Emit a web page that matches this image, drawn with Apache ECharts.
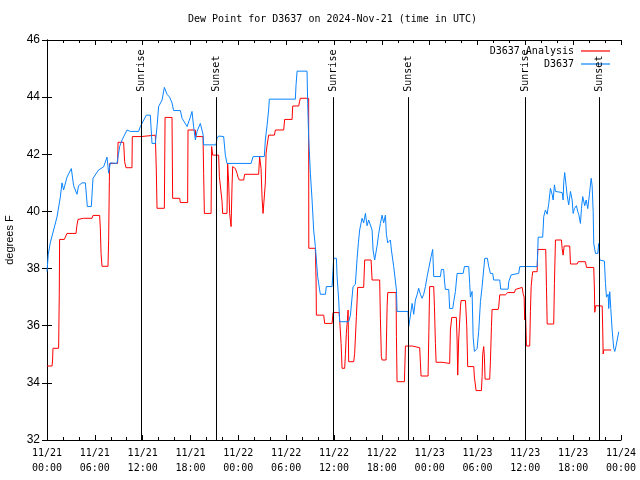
<!DOCTYPE html>
<html><head><meta charset="utf-8">
<script src="https://cdn.jsdelivr.net/npm/echarts@6/dist/echarts.min.js"></script>
<style>html,body{margin:0;padding:0;background:#fff}#c{width:640px;height:480px}</style>
</head><body><div id="c"></div>
<script>
// hours since 2024-11-21 00:00 UTC, dew point in degrees F
const analysis = [[0,34.59],[0.63,34.59],[0.70,34.8],[0.75,35.21],[1.46,35.21],[1.54,37.1],[1.58,39.02],[2.17,39.02],[2.30,39.09],[2.51,39.23],[3.64,39.23],[3.76,39.52],[3.89,39.72],[4.59,39.76],[5.65,39.76],[5.77,39.86],[6.60,39.86],[6.69,39.41],[6.78,38.53],[6.90,38.08],[7.65,38.08],[7.73,38.97],[7.82,41.04],[7.85,41.68],[8.86,41.68],[8.91,42.42],[9.61,42.42],[9.74,41.74],[9.91,41.53],[10.66,41.53],[10.70,42.62],[11.83,42.62],[11.92,42.67],[13.59,42.67],[13.71,41.45],[13.80,40.11],[14.72,40.11],[14.81,43.29],[15.68,43.29],[15.76,40.46],[16.64,40.46],[16.73,40.31],[17.64,40.31],[17.69,42.85],[18.61,42.85],[18.65,42.62],[19.57,42.62],[19.65,41.33],[19.74,39.93],[20.58,39.93],[20.65,42.27],[20.78,41.97],[21.53,41.97],[21.62,41.22],[21.87,41.22],[21.96,40.34],[22.03,39.93],[22.58,39.93],[22.66,41.68],[22.79,41.0],[22.91,39.93],[23.09,39.47],[23.21,40.9],[23.29,41.57],[23.63,41.5],[23.84,41.33],[23.96,41.2],[24.13,41.1],[24.67,41.1],[24.79,41.3],[26.55,41.3],[26.67,41.92],[26.85,41.5],[26.98,40.46],[27.10,39.93],[27.30,39.93],[27.39,41.0],[27.48,42.03],[27.60,42.3],[27.80,42.67],[28.52,42.67],[28.65,42.85],[29.69,42.85],[29.81,43.22],[30.74,43.22],[30.82,43.69],[31.57,43.69],[31.69,43.86],[31.78,43.96],[32.82,43.96],[32.84,38.71],[33.66,38.71],[33.75,37.6],[33.79,36.37],[34.71,36.37],[34.83,36.08],[35.76,36.08],[35.88,36.46],[36.64,36.46],[36.71,36.2],[36.89,35.38],[37.01,34.51],[37.34,34.51],[37.43,35.0],[37.55,35.73],[37.68,36.2],[37.77,36.55],[37.84,34.74],[38.47,34.74],[38.59,35.03],[38.81,36.32],[38.97,37.34],[39.72,37.34],[39.85,38.3],[40.65,38.3],[40.78,37.6],[41.73,37.6],[41.82,36.26],[41.94,34.92],[42.03,34.8],[42.53,34.8],[42.66,36.66],[42.74,37.16],[43.79,37.16],[43.83,35.62],[43.91,34.04],[44.83,34.04],[44.96,35.29],[45.80,35.29],[46.05,35.23],[46.75,35.23],[46.84,34.7],[46.92,34.24],[47.80,34.24],[47.90,35.8],[48.00,37.37],[48.51,37.37],[48.60,36.66],[48.72,35.38],[48.81,34.72],[49.56,34.72],[49.64,34.68],[50.51,34.68],[50.60,35.85],[50.77,36.29],[51.35,36.29],[51.44,35.5],[51.52,34.27],[51.64,35.5],[51.86,36.66],[51.94,36.88],[52.49,36.88],[52.65,36.0],[52.77,34.57],[53.53,34.57],[53.61,34.2],[53.82,33.73],[54.49,33.73],[54.58,34.22],[54.65,35.0],[54.78,35.27],[54.87,34.9],[54.95,34.13],[55.53,34.13],[55.62,34.74],[55.75,35.97],[55.83,36.57],[56.59,36.57],[56.66,36.66],[56.79,37.08],[57.50,37.08],[57.63,37.13],[57.79,37.16],[58.63,37.16],[58.76,37.27],[58.88,37.34],[59.60,37.34],[59.72,37.13],[59.85,37.0],[59.92,36.2],[60.01,36.6],[60.14,35.29],[60.55,35.29],[60.64,36.5],[60.73,37.37],[60.85,37.72],[60.93,37.89],[61.48,37.89],[61.56,38.67],[62.56,38.67],[62.65,37.37],[62.74,36.06],[63.56,36.06],[63.65,37.48],[63.78,39.0],[64.53,39.0],[64.62,38.7],[64.74,38.47],[64.87,38.79],[65.57,38.79],[65.66,38.16],[66.50,38.16],[66.63,38.24],[67.54,38.24],[67.67,38.04],[68.58,38.04],[68.67,37.25],[68.71,36.47],[68.83,36.7],[69.01,36.69],[69.64,36.69],[69.71,35.85],[69.76,35.01],[69.84,35.15],[70.77,35.15]];

const station = [[0,37.9],[0.16,38.5],[0.41,38.9],[0.83,39.35],[1.25,39.8],[1.67,40.5],[1.88,41.0],[2.08,40.75],[2.51,41.2],[3.05,41.5],[3.34,40.9],[3.76,40.6],[3.96,40.9],[4.39,41.0],[4.81,41.0],[5.06,40.17],[5.56,40.17],[5.77,41.16],[6.47,41.45],[7.10,41.56],[7.53,41.9],[7.73,41.34],[7.94,41.7],[8.78,41.68],[9.11,42.27],[9.41,42.5],[10.04,42.85],[10.45,42.8],[11.49,42.8],[11.71,42.97],[11.92,43.08],[12.46,43.37],[12.96,43.37],[13.17,42.38],[13.59,42.38],[13.80,42.97],[14.00,43.67],[14.43,43.9],[14.72,44.34],[15.06,44.1],[15.38,44.0],[15.68,43.8],[15.88,43.53],[16.73,43.53],[16.94,43.26],[17.57,42.97],[17.98,43.3],[18.19,43.5],[18.39,42.97],[18.61,42.5],[18.82,42.8],[19.23,43.08],[19.57,42.7],[19.65,42.33],[21.20,42.33],[21.33,42.56],[21.53,42.64],[22.16,42.62],[22.37,41.97],[22.58,41.68],[25.60,41.68],[25.85,41.92],[27.26,41.92],[27.39,42.5],[27.60,43.0],[27.80,43.55],[27.89,43.93],[31.15,43.93],[31.24,44.43],[31.37,44.91],[32.62,44.91],[32.70,43.78],[32.82,42.6],[33.04,41.33],[33.25,40.4],[33.45,39.35],[33.66,38.77],[33.79,38.3],[33.95,37.72],[34.20,37.25],[34.29,37.1],[34.92,37.1],[35.04,37.37],[35.76,37.37],[35.88,37.95],[35.96,38.36],[36.30,38.36],[36.39,37.72],[36.59,36.9],[36.71,36.14],[37.84,36.14],[38.06,36.37],[38.39,37.37],[38.68,37.45],[38.90,38.36],[39.06,38.9],[39.22,39.35],[39.52,39.76],[39.72,39.6],[39.94,39.93],[40.15,39.5],[40.35,39.7],[40.56,39.76],[40.78,39.35],[40.90,38.65],[41.10,38.3],[41.41,38.8],[41.61,39.23],[41.82,39.58],[42.03,39.87],[42.23,39.6],[42.45,39.87],[42.57,39.2],[42.74,38.9],[43.07,39.0],[43.20,38.65],[43.49,38.07],[43.70,38.1],[43.83,37.25],[43.91,36.5],[45.29,36.5],[45.37,35.97],[45.50,36.2],[45.80,36.78],[46.00,36.4],[46.21,36.9],[46.42,37.08],[46.62,37.31],[46.84,37.1],[47.05,36.96],[47.25,37.1],[47.47,37.37],[47.68,37.72],[47.88,38.0],[48.18,38.42],[48.38,38.67],[48.51,37.72],[49.35,37.72],[49.47,37.97],[49.76,37.97],[49.85,37.6],[49.97,37.27],[50.39,37.27],[50.51,36.6],[50.89,36.6],[51.02,36.84],[51.23,37.2],[51.44,37.83],[52.20,37.83],[52.36,38.07],[52.90,38.07],[53.02,37.48],[53.11,37.0],[53.32,37.2],[53.45,35.62],[53.61,35.1],[53.95,35.2],[54.15,35.8],[54.37,36.84],[54.58,37.37],[54.78,37.37],[54.91,38.36],[55.24,38.36],[55.41,38.07],[55.62,37.83],[55.91,37.83],[56.03,37.6],[56.79,37.6],[56.91,37.28],[57.84,37.28],[57.92,37.54],[58.22,37.78],[58.34,37.83],[59.17,37.83],[59.30,38.07],[61.48,38.07],[61.56,38.65],[61.61,39.1],[62.18,39.1],[62.31,39.82],[62.52,40.05],[62.74,39.9],[62.94,40.28],[63.15,40.81],[63.36,40.6],[63.49,40.4],[63.65,40.93],[63.78,40.7],[63.99,40.66],[64.62,40.66],[64.74,40.4],[64.82,41.04],[64.94,41.36],[65.12,40.9],[65.24,40.57],[65.44,40.23],[65.66,40.7],[65.87,40.4],[66.00,39.93],[66.16,40.1],[66.41,40.2],[66.57,40.0],[66.70,39.9],[66.91,39.58],[67.04,40.1],[67.20,40.52],[67.45,40.2],[67.63,40.4],[67.83,40.1],[68.04,40.6],[68.26,41.16],[68.38,40.9],[68.51,39.99],[68.58,38.88],[68.80,38.53],[69.08,38.53],[69.21,38.88],[69.33,38.3],[69.51,38.26],[69.92,38.26],[70.05,37.48],[70.18,37.0],[70.39,37.1],[70.46,36.6],[70.59,37.19],[70.72,36.6],[70.89,35.85],[71.09,35.21],[71.22,35.1],[71.39,35.3],[71.52,35.5],[71.72,35.79]];

const sunEventHours = [11.83, 21.24, 35.96, 45.37, 60.05, 69.33];
const sunEventNames = ['Sunrise', 'Sunset', 'Sunrise', 'Sunset', 'Sunrise', 'Sunset'];
const yTicks = {min: 32, max: 46, step: 2};
const seriesNames = ['D3637 Analysis', 'D3637'];
const seriesColors = ['#ff0000', '#0a84ff'];
const titleText = 'Dew Point for D3637 on 2024-Nov-21 (time in UTC)';

const MONO = '"DejaVu Sans Mono", "Liberation Mono", monospace';
const SANS = '"Liberation Sans", Arial, sans-serif';

function fmtX(h) {
  const day = 21 + Math.floor(h / 24 + 1e-9);
  const hh = Math.round(h % 24);
  return '11/' + day + '\n' + (hh < 10 ? '0' : '') + hh + ':00';
}

const markData = [];
sunEventHours.forEach((h, i) => {
  markData.push([{coord: [h, 32]}, {coord: [h, 44]}]);
  markData.push([{coord: [h, 44.05], name: sunEventNames[i],
    lineStyle: {color: 'rgba(0,0,0,0)', width: 0},
    label: {show: true, position: 'insideStart', formatter: '{b}', color: '#000',
            fontFamily: MONO, fontSize: 10, distance: 4}},
    {coord: [h, 46]}]);
});

function legendFor(i, top) {
  return {data: [{name: seriesNames[i], icon: 'rect', itemStyle: {color: seriesColors[i]}}],
    right: 30, top: top, align: 'right', orient: 'vertical',
    itemWidth: 29, itemHeight: 1.2, padding: 0, itemGap: 4,
    textStyle: {fontFamily: MONO, fontSize: 10, color: '#000', padding: [0, 2, 0, 0]}};
}

const chart = echarts.init(document.getElementById('c'), null, {renderer: 'canvas'});
const axisCommon = {
  axisLine: {show: true, lineStyle: {color: '#000', width: 1}},
  splitLine: {show: false}
};
chart.setOption({
  animation: false,
  backgroundColor: '#fff',
  title: {text: titleText, left: 188, top: 14, padding: 0,
    textStyle: {fontFamily: MONO, fontSize: 10, fontWeight: 'normal', color: '#000'}},
  grid: {left: 47, right: 19, top: 40, bottom: 40, containLabel: false, outerBoundsMode: 'none'},
  legend: [legendFor(0, 46), legendFor(1, 59)],
  xAxis: [
    Object.assign({type: 'value', min: 0, max: 72, interval: 6, position: 'bottom',
      axisTick: {show: true, inside: true, length: 5, lineStyle: {color: '#000'}},
      minorTick: {show: true, splitNumber: 3, length: 3, lineStyle: {color: '#000'}},
      axisLabel: {formatter: fmtX, fontFamily: MONO, fontSize: 10, color: '#000', margin: 6, lineHeight: 15, showMinLabel: true, showMaxLabel: true}
    }, axisCommon),
    Object.assign({type: 'value', min: 0, max: 72, interval: 6, position: 'top',
      axisTick: {show: true, inside: true, length: 5, lineStyle: {color: '#000'}},
      minorTick: {show: true, splitNumber: 3, length: 3, lineStyle: {color: '#000'}},
      axisLabel: {show: false}
    }, axisCommon)
  ],
  yAxis: [
    Object.assign({type: 'value', min: yTicks.min, max: yTicks.max, interval: yTicks.step, position: 'left',
      name: 'degrees F', nameLocation: 'middle', nameGap: 31, nameRotate: 90,
      nameTextStyle: {fontFamily: SANS, fontSize: 11, color: '#000'},
      axisTick: {show: true, inside: true, length: 5, lineStyle: {color: '#000'}},
      axisLabel: {fontFamily: SANS, fontSize: 12, color: '#000', margin: 7}
    }, axisCommon),
    Object.assign({type: 'value', min: yTicks.min, max: yTicks.max, interval: yTicks.step, position: 'right',
      axisTick: {show: true, inside: true, length: 5, lineStyle: {color: '#000'}},
      axisLabel: {show: false}
    }, axisCommon)
  ],
  series: [
    {name: seriesNames[0], type: 'line', data: analysis, showSymbol: false, symbol: 'none',
     lineStyle: {color: seriesColors[0], width: 1}, itemStyle: {color: seriesColors[0]}, z: 3,
     markLine: {silent: true, symbol: ['none', 'none'], animation: false,
       lineStyle: {color: '#000', width: 1, type: 'solid'},
       label: {show: false}, data: markData}},
    {name: seriesNames[1], type: 'line', data: station, showSymbol: false, symbol: 'none',
     lineStyle: {color: seriesColors[1], width: 1}, itemStyle: {color: seriesColors[1]}, z: 4}
  ]
});
</script></body></html>
